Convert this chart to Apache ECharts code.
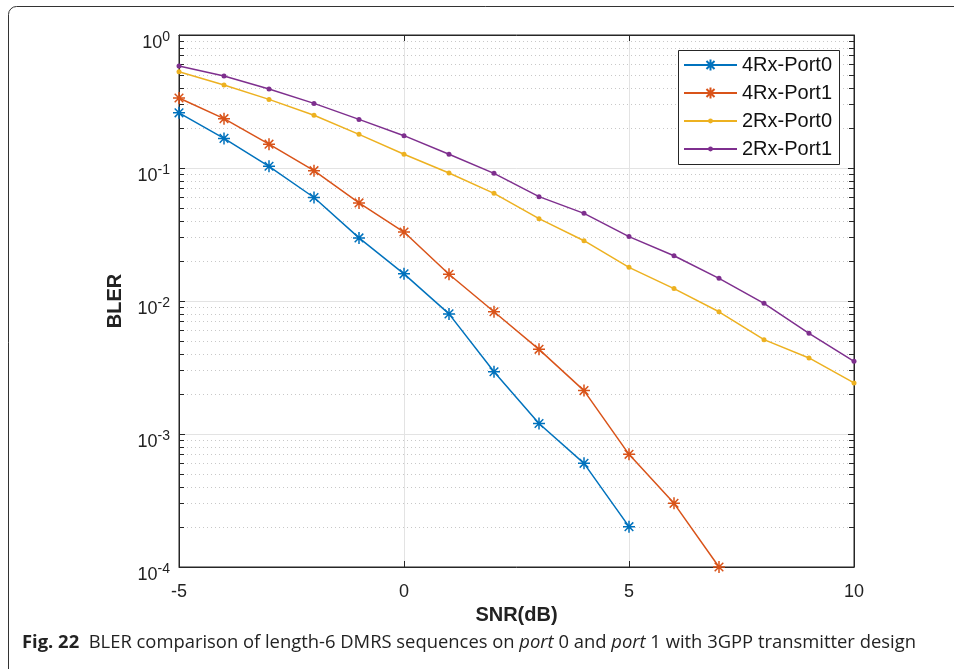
<!DOCTYPE html>
<html>
<head>
<meta charset="utf-8">
<script src="https://cdn.jsdelivr.net/npm/echarts@6/dist/echarts.min.js"></script>
<style>
html,body{margin:0;padding:0;background:#fff;}
#chart{width:954px;height:669px;}
</style>
</head>
<body>
<div id="chart"></div>
<script>
// ---- data ----
var snr = [-5,-4,-3,-2,-1,0,1,2,3,4,5,6,7,8,9,10];
var seriesNames = ['4Rx-Port0','4Rx-Port1','2Rx-Port0','2Rx-Port1'];
var rx4Port0 = [0.26,0.167,0.103,0.060,0.0298,0.0160,0.0080,0.00294,0.00120,0.000602,0.000201];
var rx4Port1 = [0.336,0.235,0.151,0.0955,0.0546,0.0330,0.0159,0.0083,0.00433,0.00212,0.000703,0.000301,0.0001];
var rx2Port0 = [0.530,0.421,0.328,0.249,0.179,0.127,0.0917,0.0645,0.0416,0.0284,0.0179,0.0124,0.0083,0.00512,0.00373,0.00242];
var rx2Port1 = [0.585,0.492,0.393,0.306,0.232,0.175,0.127,0.0912,0.0609,0.0456,0.0305,0.0219,0.0148,0.0096,0.00571,0.00352];
var xTicks = [-5,0,5,10];
var yDecades = [-4,-3,-2,-1,0];
var caption = {fig:'Fig. 22', parts:['  BLER comparison of length-6 DMRS sequences on ', 'port', ' 0 and ', 'port', ' 1 with 3GPP transmitter design']};

var colors = ['#0072BD','#D95319','#EDB120','#7E2F8E'];
var asterisk = 'path://M0,-6L0,6M-6,0L6,0M-4.3,-4.3L4.3,4.3M-4.3,4.3L4.3,-4.3';

function pairs(ys){ return ys.map(function(v,i){ return [snr[i], v]; }); }

// minor grid lines and minor ticks via markLine
var minorLines = [];
var minorTicks = [];
yDecades.slice(0,-1).forEach(function(d){
  for (var k=2;k<=9;k++){
    var v = k*Math.pow(10,d);
    minorLines.push([{coord:[-5,v]},{coord:[10,v]}]);
    minorTicks.push([{coord:[-5,v]},{coord:[-5+5/45,v]}]);
    minorTicks.push([{coord:[10-5/45,v]},{coord:[10,v]}]);
  }
});

var chart = echarts.init(document.getElementById('chart'), null, {renderer:'canvas'});
var axisColor = '#262626';
var fontFam = '"Liberation Sans", Arial, Helvetica, sans-serif';
var capFont = '"Open Sans", sans-serif';

var seriesData = [rx4Port0, rx4Port1, rx2Port0, rx2Port1];
var series = seriesData.map(function(ys, i){
  var isStar = i < 2;
  return {
    name: seriesNames[i],
    type: 'line',
    data: pairs(ys),
    symbol: isStar ? asterisk : 'circle',
    symbolSize: isStar ? 12 : 5,
    showAllSymbol: true,
    clip: false,
    z: 5,
    lineStyle: {color: colors[i], width: 1.5},
    itemStyle: isStar ? {color: colors[i], borderColor: colors[i], borderWidth: 1.5} : {color: colors[i], borderWidth: 0},
    emphasis: {disabled: true},
    animation: false
  };
});
series.push({
  type: 'line', data: [], silent: true, animation: false, z: 1,
  markLine: {silent: true, symbol: ['none','none'], animation: false, label:{show:false},
    lineStyle: {type: [1,3], color: '#c8c8c8', width: 1}, data: minorLines}
});
series.push({
  type: 'line', data: [], silent: true, animation: false, z: 3,
  markLine: {silent: true, symbol: ['none','none'], animation: false, label:{show:false},
    lineStyle: {type: 'solid', color: axisColor, width: 1}, data: minorTicks}
});

var legendCommon = {
  orient: 'vertical', left: 683, backgroundColor: 'transparent', borderWidth: 0,
  padding: 0, itemWidth: 53, itemGap: 8, selectedMode: false,
  textStyle: {fontFamily: fontFam, fontSize: 20, color: '#111'}
};

var option = {
  backgroundColor: '#fff',
  animation: false,
  color: colors,
  graphic: [
    {type:'rect', shape:{x:8.5, y:6.5, width:980, height:700, r:8}, style:{fill:'none', stroke:'#333', lineWidth:1}, silent:true},
    {type:'rect', z: 10, shape:{x:678.5, y:50.5, width:161, height:114}, style:{fill:'#fff', stroke:axisColor, lineWidth:1}, silent:true},
    {type:'text', left: 22, top: 634, silent:true,
     style:{
       text: '{b|' + caption.fig + '}{n|' + caption.parts[0] + '}{i|' + caption.parts[1] + '}{n|' + caption.parts[2] + '}{i|' + caption.parts[3] + '}{n|' + caption.parts[4] + '}',
       rich:{
         b:{fontFamily:capFont, fontWeight:'bold', fontSize:18.4, fill:'#222'},
         n:{fontFamily:capFont, fontSize:18.4, fill:'#222'},
         i:{fontFamily:capFont, fontStyle:'italic', fontSize:18.4, fill:'#222'}
       }
     }}
  ],
  grid: {left:179, top:35, right:100, bottom:102, show:true, borderColor: axisColor, borderWidth:1, containLabel:false},
  legend: [
    Object.assign({}, legendCommon, {data: seriesNames.slice(0,2), top: 55, itemHeight: 14, z: 20}),
    Object.assign({}, legendCommon, {data: seriesNames.slice(2), top: 111, itemHeight: 6, z: 20})
  ],
  xAxis: [{
    type: 'value', min: -5, max: 10, interval: 5,
    axisLine: {show:true, onZero:false, lineStyle:{color:axisColor}},
    axisTick: {show:true, inside:true, length:6, lineStyle:{color:axisColor}},
    axisLabel: {color:'#222', fontFamily:fontFam, fontSize:18, margin:16},
    splitLine: {show:true, lineStyle:{color:'#e3e3e3', width:1}},
    name: 'SNR(dB)', nameLocation: 'middle', nameGap: 27,
    nameTextStyle: {fontFamily:fontFam, fontWeight:'bold', fontSize:20, color:'#222'}
  },{
    type: 'value', position:'top', min:-5, max:10, interval:5,
    axisLine:{show:true, onZero:false, lineStyle:{color:axisColor}},
    axisTick:{show:true, inside:true, length:6, lineStyle:{color:axisColor}},
    axisLabel:{show:false}, splitLine:{show:false}
  }],
  yAxis: [{
    type: 'log', logBase: 10, min: 1e-4, max: 1,
    axisLine: {show:true, onZero:false, lineStyle:{color:axisColor}},
    axisTick: {show:true, inside:true, length:6, lineStyle:{color:axisColor}},
    splitLine: {show:true, lineStyle:{color:'#e3e3e3', width:1}},
    axisLabel: {
      margin: 9,
      padding: [12,0,0,0],
      formatter: function(v){ var e = Math.round(Math.log(v)/Math.LN10); return '{b|10}{s|' + e + '}'; },
      rich: {
        b: {fontFamily:fontFam, fontSize:18, color:'#222', lineHeight:22, verticalAlign:'bottom'},
        s: {fontFamily:fontFam, fontSize:14, color:'#222', lineHeight:6, verticalAlign:'top'}
      }
    },
    name: 'BLER', nameLocation: 'middle', nameGap: 54, nameRotate: 90,
    nameTextStyle: {fontFamily:fontFam, fontWeight:'bold', fontSize:20, color:'#222'}
  },{
    type: 'log', logBase: 10, min: 1e-4, max: 1, position:'right',
    axisLine:{show:true, onZero:false, lineStyle:{color:axisColor}},
    axisTick:{show:true, inside:true, length:6, lineStyle:{color:axisColor}},
    axisLabel:{show:false}, splitLine:{show:false}
  }],
  series: series
};
chart.setOption(option);
</script>
</body>
</html>
